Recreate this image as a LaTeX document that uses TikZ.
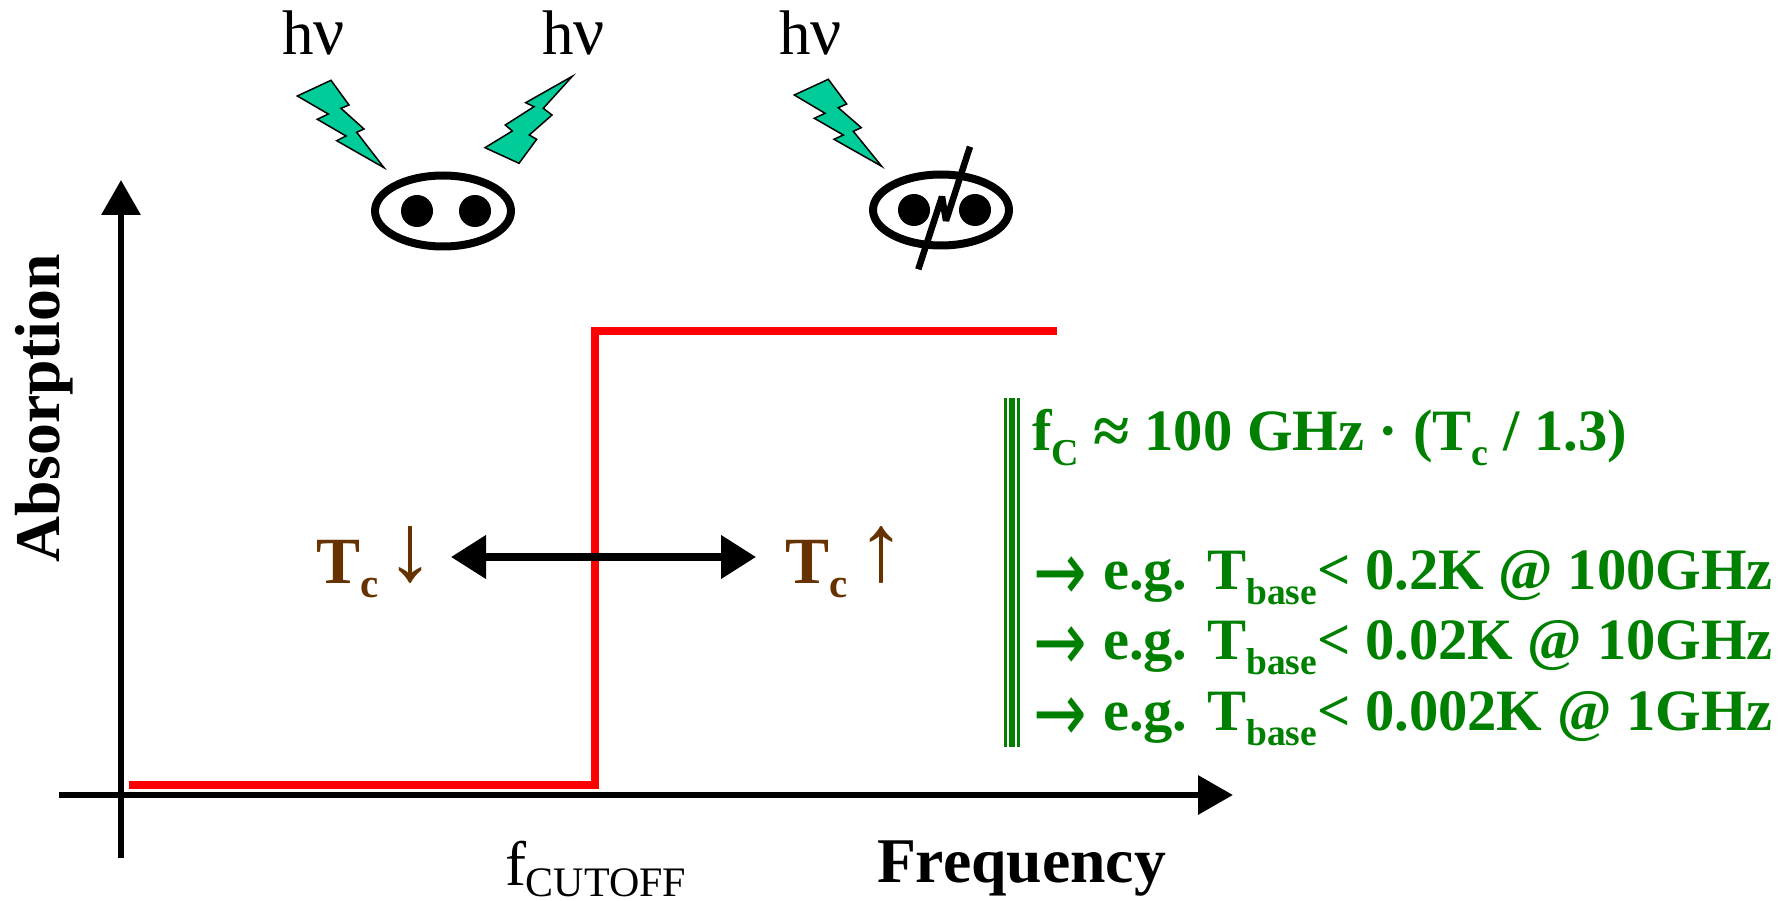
\documentclass[tikz,border=0pt]{standalone}
\usepackage{fontspec}
\usepackage{graphicx}
\setmainfont{Liberation Serif}
\newfontfamily\dejavu{DejaVu Sans}
\usetikzlibrary{arrows.meta}
\definecolor{boltgreen}{RGB}{0,204,153}
\definecolor{txtgreen}{RGB}{0,128,0}
\definecolor{txtbrown}{RGB}{102,51,0}
\newcommand{\fsz}[1]{\fontsize{#1}{#1}\selectfont}
\newcommand{\sbs}[3]{\lower#1pt\hbox{\fsz{#2}#3}}
\newcommand{\ArrowTxt}{\hbox to 70pt{\lower11pt\hbox{\scalebox{1}[1.3]{\dejavu\mdseries\fsz{64}→}}\hss}}
\tikzset{
  lbl/.style={inner sep=0pt,outer sep=0pt,anchor=base west},
  hv/.style={lbl,font=\fsz{63}},
  axis/.style={line width=6.5pt,-{Triangle[length=35pt,width=38pt]}},
  curve/.style={line width=7.5pt,red,line join=miter},
  bolt/.style={draw=black,line width=1.5pt,fill=boltgreen,line join=miter},
  ring/.style={draw=black,line width=8pt,fill=white},
  dot/.style={fill=black},
  dbl/.style={line width=7.5pt,{Triangle[length=35pt,width=42pt]}-{Triangle[length=35pt,width=42pt]}},
  grn/.style={lbl,font=\fsz{58.6}\bfseries,text=txtgreen},
  brn/.style={lbl,font=\fsz{66}\bfseries,text=txtbrown},
  bar/.style={draw=txtgreen}
}
\begin{document}
\begin{tikzpicture}[x=1pt,y=-1pt]
\useasboundingbox (0,0) rectangle (1791,901);
% axes
\coordinate (xs) at (59,795); \coordinate (xe) at (1233,795);
\coordinate (ys) at (121,858); \coordinate (ye) at (121,180);
\draw[axis] (xs) -- (xe);
\draw[axis] (ys) -- (ye);
% red absorption curve
\coordinate (c1) at (129,785); \coordinate (c2) at (595,785);
\coordinate (c3) at (595,331); \coordinate (c4) at (1057,331);
\draw[curve] (c1) -- (c2) -- (c3) -- (c4);
% double arrow
\coordinate (al) at (451,557); \coordinate (ar) at (756,557);
\draw[dbl] (al) -- (ar);
% labels on axes
\node[lbl,rotate=90,font=\fsz{63.7}\bfseries] (absn) at (59,562) {Absorption};
\node[lbl,font=\fsz{63.7}\bfseries] (freq) at (877,882) {Frequency};
\node[lbl,font=\fsz{63}] (fcut) at (505,885) {f\sbs{11}{42}{CUTOFF}};
% photons
\node[hv] (h1) at (282,55) {h{\fsz{69}ν}};
\node[hv] (h2) at (542,55) {h{\fsz{69}ν}};
\node[hv] (h3) at (779,55) {h{\fsz{69}ν}};
\filldraw[bolt] (297.3,96) -- (331,80.3) -- (349,105) -- (341,108.3) -- (364,129) -- (356.7,132.3) -- (384,167.7) -- (336.7,140.7) -- (346,136) -- (317.3,119.3) -- (328.3,114) -- cycle;
\filldraw[bolt] (572.3,76.3) -- (543.3,108.3) -- (552,115) -- (529.3,135) -- (536.7,139.3) -- (519,163.3) -- (485,147.7) -- (512.3,131) -- (505.3,125) -- (534,106.7) -- (525.7,102.7) -- cycle;
\filldraw[bolt] (794.3,95) -- (828.3,79.3) -- (846.7,104) -- (838.3,107.7) -- (861.3,127.7) -- (853.3,131.3) -- (881.7,166.3) -- (834,139.3) -- (843.3,135) -- (814.3,118.3) -- (825,113.3) -- cycle;
% pairs
\coordinate (e1) at (443,211); \coordinate (e2) at (941,210);
\filldraw[ring] (e1) ellipse [x radius=68,y radius=35.5];
\fill[dot] (417,211) circle (16);
\fill[dot] (475,211) circle (16);
\filldraw[ring] (e2) ellipse [x radius=68,y radius=35.5];
\fill[dot] (914,210) circle (16);
\fill[dot] (975,210) circle (16);
\coordinate (s1) at (970,146.7); \coordinate (s2) at (946,220.7);
\coordinate (s3) at (942,196.7); \coordinate (s4) at (918.3,269.3);
\draw[line width=6.5pt,line join=bevel] (s1) -- (s2) -- (s3) -- (s4);
% Tc labels
\node[brn] (tl) at (316,583) {T\sbs{14}{41}{c}};
\node[brn] (tr) at (785,583) {T\sbs{14}{41}{c}};
\node[inner sep=0pt,text=txtbrown,font=\fsz{96}] (dn) at (410,555) {↓};
\node[inner sep=0pt,text=txtbrown,font=\fsz{96}] (up) at (881,555) {↑};
% green bar
\coordinate (b1) at (1005.3,398); \coordinate (b2) at (1005.3,747);
\coordinate (b3) at (1012.2,398); \coordinate (b4) at (1012.2,747);
\coordinate (b5) at (1018.3,398); \coordinate (b6) at (1018.3,747);
\draw[bar,line width=2.8pt] (b1) -- (b2);
\draw[bar,line width=5.5pt] (b3) -- (b4);
\draw[bar,line width=3pt] (b5) -- (b6);
% green text
\node[grn] (g0) at (1032,450) {f\sbs{15}{38}{C} \lower3pt\hbox{\fsz{66}≈} 100 GHz · (T\sbs{15}{38}{c} / 1.3)};
\node[grn] (g1) at (1033,589) {\ArrowTxt e.g. T\sbs{15}{37.5}{base}< 0.2K @ 100GHz};
\node[grn] (g2) at (1033,659) {\ArrowTxt e.g. T\sbs{15}{37.5}{base}< 0.02K @ 10GHz};
\node[grn] (g3) at (1033,730) {\ArrowTxt e.g. T\sbs{15}{37.5}{base}< 0.002K @ 1GHz};
\end{tikzpicture}
\end{document}
